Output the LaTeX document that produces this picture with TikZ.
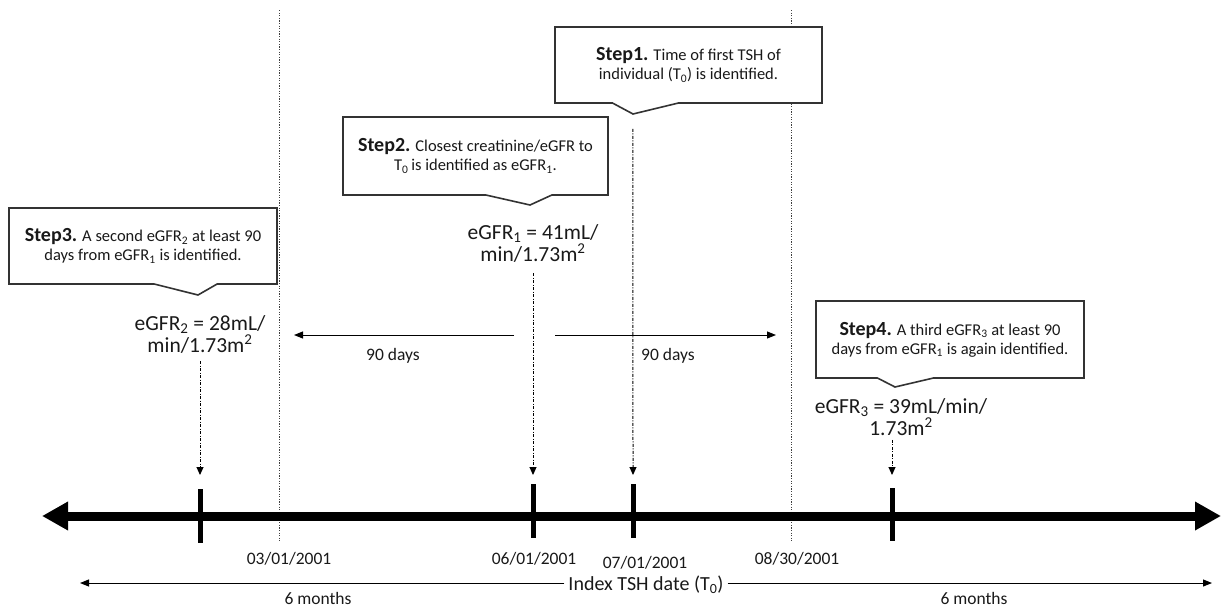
\documentclass[tikz,border=0pt]{standalone}
\usepackage{fontspec}
\setmainfont{Carlito}
\usetikzlibrary{arrows.meta,shapes.callouts}

\begin{document}
\begin{tikzpicture}[x=1pt, y=-1pt, every node/.style={text=black!90},
    stepbox/.style={rectangle callout, draw=black!80, line width=1.6pt, fill=white, align=center,
        minimum width=267pt, minimum height=76pt, inner sep=2pt, font=\fontsize{16.5}{19}\selectfont},
    egfr/.style={align=center, font=\fontsize{21.5}{22}\selectfont, inner sep=1pt},
    datelab/.style={font=\fontsize{17.5}{20}\selectfont, inner sep=1pt},
    daymark/.style={line width=5pt},
    timeline/.style={line width=9pt, {Triangle[length=26pt,width=27pt]}-{Triangle[length=26pt,width=27pt]}},
    guide/.style={black!75, line width=1pt, dash pattern=on 1.2pt off 1.4pt},
    pointer/.style={line width=1pt, dash pattern=on 3pt off 1.5pt on 1pt off 1.5pt, -{Triangle[length=8pt,width=7pt]}},
    span/.style={line width=1pt, -{Triangle[length=9pt,width=7pt]}}]
    \useasboundingbox (0,0) rectangle (1222,608);

    % window limits
    \coordinate (ga) at (279,10);
    \coordinate (gb) at (279,541);
    \coordinate (gc) at (791,10);
    \coordinate (gd) at (791,541);
    \draw[guide] (ga) -- (gb);
    \draw[guide] (gc) -- (gd);

    % time axis
    \coordinate (lft) at (42,516);
    \coordinate (rgt) at (1221,516);
    \draw[timeline] (lft) -- (rgt);
    \draw[daymark] (200,489) -- (200,543);
    \draw[daymark] (533,484) -- (533,538);
    \draw[daymark] (633,484) -- (633,538);
    \draw[daymark] (892,488) -- (892,541);
    \coordinate (k3) at (200,475);
    \coordinate (k2) at (533,475);
    \coordinate (k1) at (633,475);
    \coordinate (k4) at (892,475);

    % steps
    \node[stepbox, callout absolute pointer={(633,114)}, callout pointer width=66pt] (step1) at (688.5,65)
        {\textbf{\fontsize{20}{19}\selectfont Step1.} Time of first TSH of\\individual (T\textsubscript{0}) is identified.};
    \node[stepbox, minimum width=265pt, minimum height=78pt, callout absolute pointer={(530,205)}, callout pointer width=66pt] (step2) at (475.5,156)
        {\textbf{\fontsize{20}{19}\selectfont Step2.} Closest creatinine/eGFR to\\T\textsubscript{0}\,is identified as eGFR\textsubscript{1}.};
    \node[stepbox, minimum width=268pt, callout absolute pointer={(198,295)}, callout pointer width=63pt] (step3) at (143,246)
        {\textbf{\fontsize{20}{19}\selectfont Step3.} A second eGFR\textsubscript{2} at least 90\\days from eGFR\textsubscript{1} is identified.};
    \node[stepbox, minimum width=268pt, minimum height=77pt, callout absolute pointer={(895,387)}, callout pointer width=56pt] (step4) at (950,339.5)
        {\textbf{\fontsize{20}{19}\selectfont Step4.} A third eGFR\textsubscript{3} at least 90\\days from eGFR\textsubscript{1} is again identified.};

    % values
    \node[egfr] (eone) at (533,243) {eGFR\textsubscript{1} = 41mL/\\min/1.73m\textsuperscript{2}};
    \node[egfr] (etwo) at (200,334) {eGFR\textsubscript{2} = 28mL/\\min/1.73m\textsuperscript{2}};
    \node[egfr] (ethree) at (901,417) {eGFR\textsubscript{3} = 39mL/min/\\1.73m\textsuperscript{2}};

    \draw[pointer, shorten <=14pt] (step1.pointer) -- (k1);
    \draw[pointer, shorten <=10pt] (eone.south) -- (k2);
    \draw[pointer, shorten <=7pt] (etwo.south) -- (k3);
    \draw[pointer, shorten <=3pt] (ethree.south -| k4) -- (k4);

    % 90 days
    \coordinate (m2) at (514,335);
    \coordinate (back) at (294,335);
    \coordinate (m1) at (555,335);
    \coordinate (fwd) at (776,335);
    \draw[span] (m2) -- (back);
    \draw[span] (m1) -- (fwd);
    \node[datelab] (dl) at (393,356) {90 days};
    \node[datelab] (dr) at (668,356) {90 days};

    % dates
    \node[datelab] (d1) at (289,559) {03/01/2001};
    \node[datelab] (d2) at (534,559) {06/01/2001};
    \node[datelab] (d3) at (645,563) {07/01/2001};
    \node[datelab] (d4) at (797,559) {08/30/2001};

    % six months either side
    \node[font=\fontsize{20}{22}\selectfont, inner sep=4pt] (idx) at (646,585) {Index TSH date (T\textsubscript{0})};
    \coordinate (farl) at (80,583);
    \coordinate (farr) at (1212,583);
    \draw[span] (idx.west |- farl) -- (farl);
    \draw[span] (idx.east |- farr) -- (farr);
    \node[datelab] (sl) at (318,598) {6 months};
    \node[datelab] (sr) at (974,598) {6 months};
\end{tikzpicture}
\end{document}
